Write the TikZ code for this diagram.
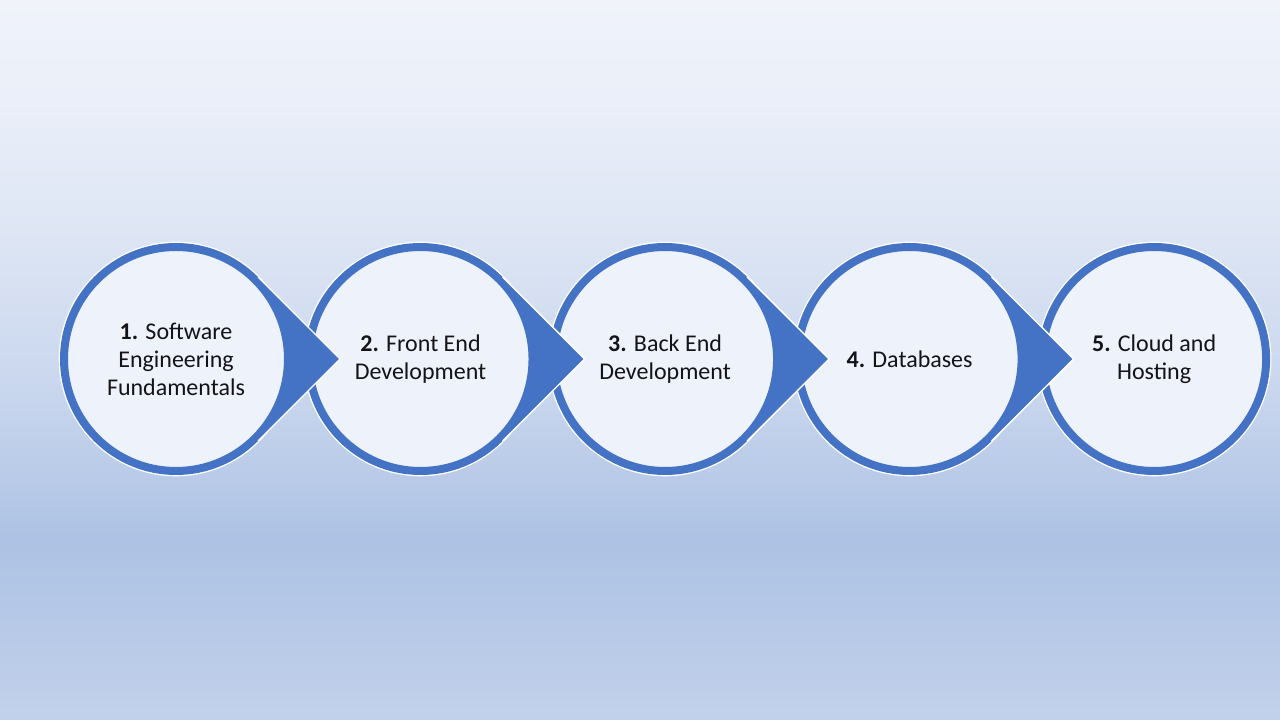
\documentclass[tikz,border=0pt]{standalone}
\usepackage{fontspec}
\setmainfont{Carlito}
\usetikzlibrary{positioning,calc}
\definecolor{ring}{RGB}{68,114,196}
\definecolor{disc}{RGB}{238,242,250}
\definecolor{ink}{RGB}{20,20,24}
\definecolor{bgtop}{RGB}{240,243,250}
\definecolor{bghigh}{RGB}{234,239,249}
\definecolor{bgmid}{RGB}{221,229,244}
\definecolor{bglow}{RGB}{199,213,237}
\definecolor{bgdeep}{RGB}{173,194,228}
\definecolor{bgfoot}{RGB}{194,209,235}
\pgfdeclareverticalshading{backdrop}{100bp}{color(0bp)=(bgfoot); color(25bp)=(bgfoot); color(37.5bp)=(bgdeep); color(47.2bp)=(bglow); color(58.3bp)=(bgmid); color(68bp)=(bghigh); color(75bp)=(bgtop); color(100bp)=(bgtop)}
\tikzset{
 stage/.style={circle, fill=disc, draw=ring, line width=6pt, minimum size=168pt, inner sep=0pt,
               align=center, text=ink, font=\fontsize{18}{21}\selectfont,
               preaction={draw=white, line width=8pt}},
 pointer/.style={fill=ring},
 rim/.style={draw=white, line width=1pt}
}
\begin{document}
\begin{tikzpicture}

\shade[shading=backdrop] (0,0) rectangle (960pt,540pt);
\useasboundingbox (0,0) rectangle (960pt,540pt);

\node[stage] (s1) at (132pt,270.75pt) {\textbf{1.} Software\\Engineering\\Fundamentals};
\node[stage, right=9.4pt of s1] (s2) {\textbf{2.} Front End\\Development};
\node[stage, right=9.4pt of s2] (s3) {\textbf{3.} Back End\\Development};
\node[stage, right=9.4pt of s3] (s4) {\textbf{4.} Databases};
\node[stage, right=9.4pt of s4] (s5) {\textbf{5.} Cloud and\\Hosting};

\coordinate (t1) at ($(s1.center)+(123pt,0)$);
\coordinate (t2) at ($(s2.center)+(123pt,0)$);
\coordinate (t3) at ($(s3.center)+(123pt,0)$);
\coordinate (t4) at ($(s4.center)+(123pt,0)$);

\fill[pointer] (s1.45) -- (t1) -- (s1.-45) -- ($(s1.center)+(-45:84pt)$) arc[start angle=-45, end angle=45, radius=84pt] -- cycle;
\draw[rim] (s1.45) -- (t1) -- (s1.-45);
\fill[pointer] (s2.45) -- (t2) -- (s2.-45) -- ($(s2.center)+(-45:84pt)$) arc[start angle=-45, end angle=45, radius=84pt] -- cycle;
\draw[rim] (s2.45) -- (t2) -- (s2.-45);
\fill[pointer] (s3.45) -- (t3) -- (s3.-45) -- ($(s3.center)+(-45:84pt)$) arc[start angle=-45, end angle=45, radius=84pt] -- cycle;
\draw[rim] (s3.45) -- (t3) -- (s3.-45);
\fill[pointer] (s4.45) -- (t4) -- (s4.-45) -- ($(s4.center)+(-45:84pt)$) arc[start angle=-45, end angle=45, radius=84pt] -- cycle;
\draw[rim] (s4.45) -- (t4) -- (s4.-45);

\end{tikzpicture}
\end{document}
